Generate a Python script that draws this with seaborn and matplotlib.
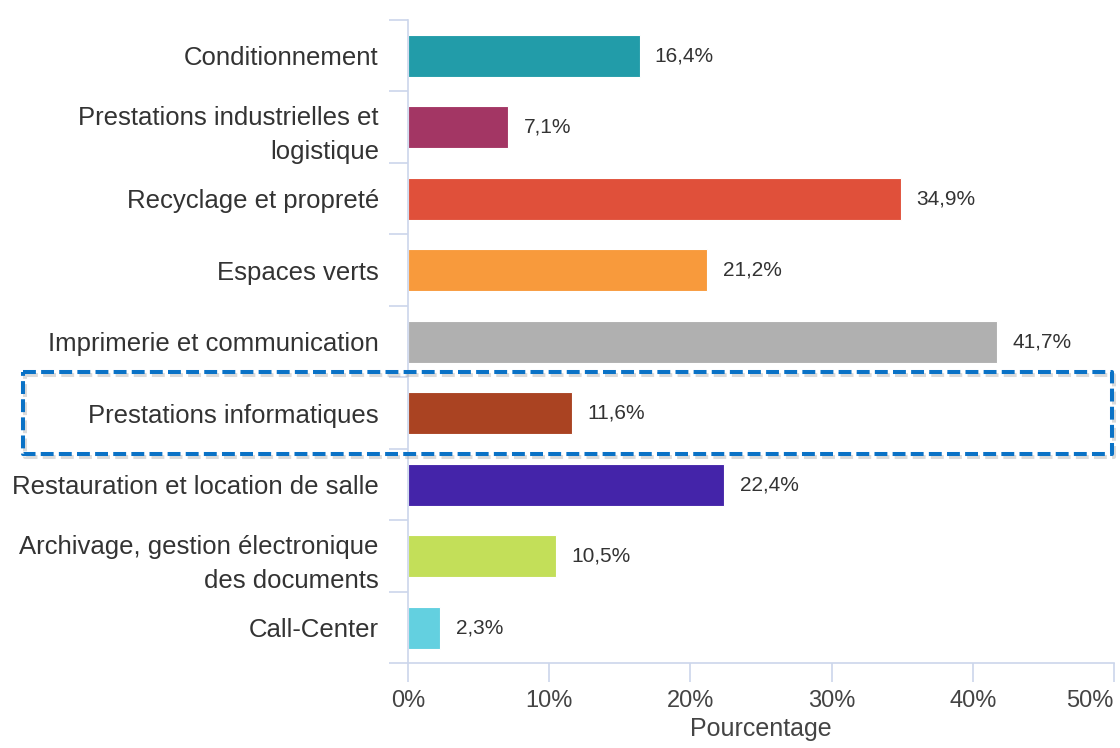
import numpy as np
import pandas as pd
import matplotlib.pyplot as plt
import matplotlib.transforms as mtransforms
import matplotlib.patheffects as pe
from matplotlib.patches import Rectangle
from matplotlib.ticker import FixedLocator
import seaborn as sns

categories = ["Conditionnement",
              "Prestations industrielles et\nlogistique",
              "Recyclage et propreté",
              "Espaces verts",
              "Imprimerie et communication",
              "Prestations informatiques",
              "Restauration et location de salle",
              "Archivage, gestion électronique\ndes documents",
              "Call-Center"]
percentages = [16.4, 7.1, 34.9, 21.2, 41.7, 11.6, 22.4, 10.5, 2.3]
bar_colors = ["#229ca9", "#a33664", "#e0503a", "#f89a3c", "#b0b0b0",
              "#aa4322", "#4424a9", "#c3df59", "#63d0e0"]
x_ticks = [0, 10, 20, 30, 40, 50]
highlighted = "Prestations informatiques"

df = pd.DataFrame({"Categorie": categories, "Pourcentage": percentages})

sns.set_style("white")
plt.rcParams["font.family"] = ["Liberation Sans", "DejaVu Sans"]

axis_col = "#ccd6eb"

fig = plt.figure(figsize=(11.2, 7.48), dpi=100)
ax = fig.add_axes([0.3643, 0.1130, 0.6303, 0.8603])

sns.barplot(data=df, y="Categorie", x="Pourcentage", hue="Categorie",
            palette=bar_colors, saturation=1, orient="h", width=0.59,
            legend=False, edgecolor="white", linewidth=0.8, ax=ax)

# value labels with french decimal comma
for cont, v in zip(ax.containers, percentages):
    ax.bar_label(cont, labels=[f"{v:.1f}%".replace(".", ",")], padding=11,
                 fontsize=15, color="#333333")

ax.set_xlim(0, 50)
ax.set_ylim(len(categories) - 0.5, -0.5)
ax.set_xticks(x_ticks)
ax.set_xticklabels([f"{t}%" for t in x_ticks], fontsize=17, color="#444444")
ax.get_xticklabels()[-1].set_horizontalalignment("right")

ax.set_yticks(range(len(categories)))
ax.set_yticklabels(categories, fontsize=18.5, color="#333333", linespacing=1.55)
ax.yaxis.set_minor_locator(FixedLocator(np.arange(-0.5, len(categories), 1)))
ax.tick_params(axis="y", which="major", length=0, pad=21)
ax.tick_params(axis="y", which="minor", length=14, width=1.2, color=axis_col, direction="out", left=True)
ax.tick_params(axis="x", which="major", length=14, width=1.2, color=axis_col, direction="out", pad=5, bottom=True)

ax.set_xlabel("Pourcentage", fontsize=18, color="#444444", labelpad=4)
ax.set_ylabel("")

for s in ["top", "right"]:
    ax.spines[s].set_visible(False)
for s in ["left", "bottom"]:
    ax.spines[s].set_color(axis_col)
    ax.spines[s].set_linewidth(1.2)

# dashed highlight box around one category
idx = categories.index(highlighted)
trans = mtransforms.blended_transform_factory(fig.transFigure, ax.transData)
box = Rectangle((0.0205, idx - 0.575), 0.9725, 1.15, transform=trans,
                fill=False, edgecolor="#0a72c6", linewidth=2.9,
                linestyle=(0, (3.2, 1.3)), clip_on=False, joinstyle="round",
                zorder=5)
box.set_path_effects([pe.SimpleLineShadow(offset=(1.5, -2), shadow_color="#999999", alpha=0.35),
                      pe.Normal()])
ax.add_patch(box)

fig.savefig("out.png", dpi=100)
